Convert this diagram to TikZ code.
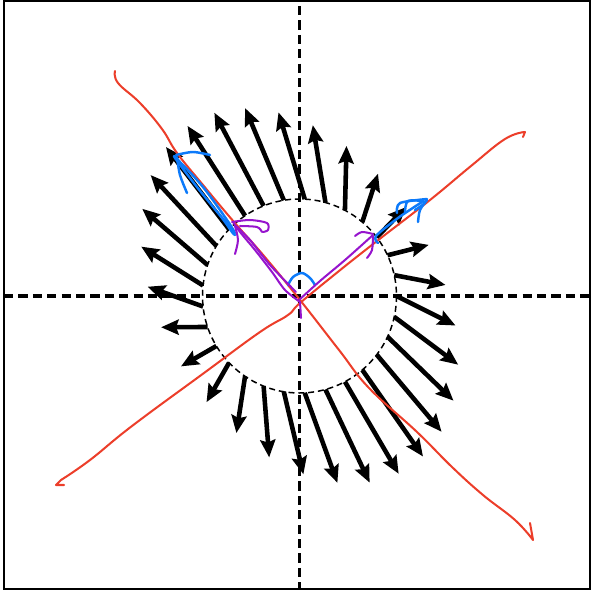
\documentclass[tikz,border=0pt]{standalone}
\usepackage{tikz}
\usetikzlibrary{arrows.meta, calc}
\definecolor{penred}{RGB}{236, 62, 42}
\definecolor{penblue}{RGB}{12, 122, 250}
\definecolor{penpurple}{RGB}{150, 20, 205}

\begin{document}
\begin{tikzpicture}[
  x=0.02cm, y=-0.02cm,
  axis/.style={black, line width=1.8pt, dash pattern=on 5.2pt off 3pt},
  ring/.style={black, line width=0.85pt, dash pattern=on 3.4pt off 2.2pt},
  quiv/.style={black, line width=2.6pt, -{Stealth[length=10pt, width=8.6pt, inset=1.5pt]}},
  ink/.style={line width=1.15pt, line cap=round, line join=round},
  redink/.style={ink, penred},
  blueink/.style={ink, penblue, line width=1.4pt},
  purpleink/.style={ink, penpurple}
]
  \useasboundingbox (0,0) rectangle (591,591);
  \coordinate (O) at (299.5,296);
  \draw[black, line width=0.8pt] (4,1) rectangle (590,589);

  \draw[axis] (4,296) -- (590,296);
  \draw[axis] (299.5,6) -- (299.5,589);
  \draw[ring] (O) circle (97);

  \foreach \k in {0,...,28} {
    \pgfmathsetmacro\t{\k*360/29}
    \draw[quiv] ($(O)+({97*cos(\t)},{-97*sin(\t)})$)
      -- ++({29.5*(2*cos(\t)-sin(\t))},{-29.5*(3*sin(\t)-cos(\t))});
  }

  \draw[redink] plot[smooth, tension=0.7] coordinates {(115,71) (118,83) (140,103) (162,129) (177,153)
    (203,185) (234,222) (264,256) (300,300) (339,350) (369,388) (417,432) (452,467) (483,495)
    (515,520) (533,540)} -- (530,523);
  \draw[redink] (64,485) -- (56,485) -- plot[smooth, tension=0.7] coordinates {(61,480) (90,460)
    (132,426) (204,373) (260,332) (288,315) (300,303) (339,271) (377,241) (430,200) (471,166)
    (505,139) (525,132)} -- (523,137);

  \draw[blueink] plot[smooth, tension=0.6] coordinates {(235,235) (232,232) (222,218) (197,187) (175,158)
    (180,162) (203,187) (227,220) (235,233)};
  \draw[blueink] plot[smooth] coordinates {(210,155) (193,152) (176,155)};
  \draw[blueink] plot[smooth] coordinates {(177,157) (180,175) (187,193)};
  \draw[blueink] plot[smooth] coordinates {(288,285) (293,277) (302,273) (310,278) (315,285)};
  \draw[blueink] plot[smooth, tension=0.5] coordinates {(378,243) (376,236) (398,218) (422,202)};
  \draw[blueink] plot[smooth] coordinates {(397,213) (400,203) (427,199)};
  \draw[blueink] plot[smooth] coordinates {(405,212) (408,201) (425,202) (415,210)};
  \draw[blueink] plot[smooth] coordinates {(427,200) (420,210) (418,222)};

  \draw[purpleink] plot[smooth, tension=0.5] coordinates {(300,302) (285,290) (272,272) (255,250) (240,232) (233,222)};
  \draw[purpleink] plot[smooth, tension=0.5] coordinates {(296,292) (270,265) (250,240) (236,226)};
  \draw[purpleink] plot[smooth] coordinates {(232,222) (250,220) (267,223) (268,230) (263,232)};
  \draw[purpleink] plot[smooth] coordinates {(240,226) (257,227) (262,232)};
  \draw[purpleink] plot[smooth] coordinates {(235,226) (238,240) (235,254)};
  \draw[purpleink] (300,302) -- (301,318);
  \draw[purpleink] plot[smooth, tension=0.5] coordinates {(299,300) (320,281) (345,260) (373,235)};
  \draw[purpleink] plot[smooth] coordinates {(373,234) (362,232) (355,236)};
  \draw[purpleink] plot[smooth] coordinates {(373,236) (372,250) (367,258)};
\end{tikzpicture}
\end{document}
